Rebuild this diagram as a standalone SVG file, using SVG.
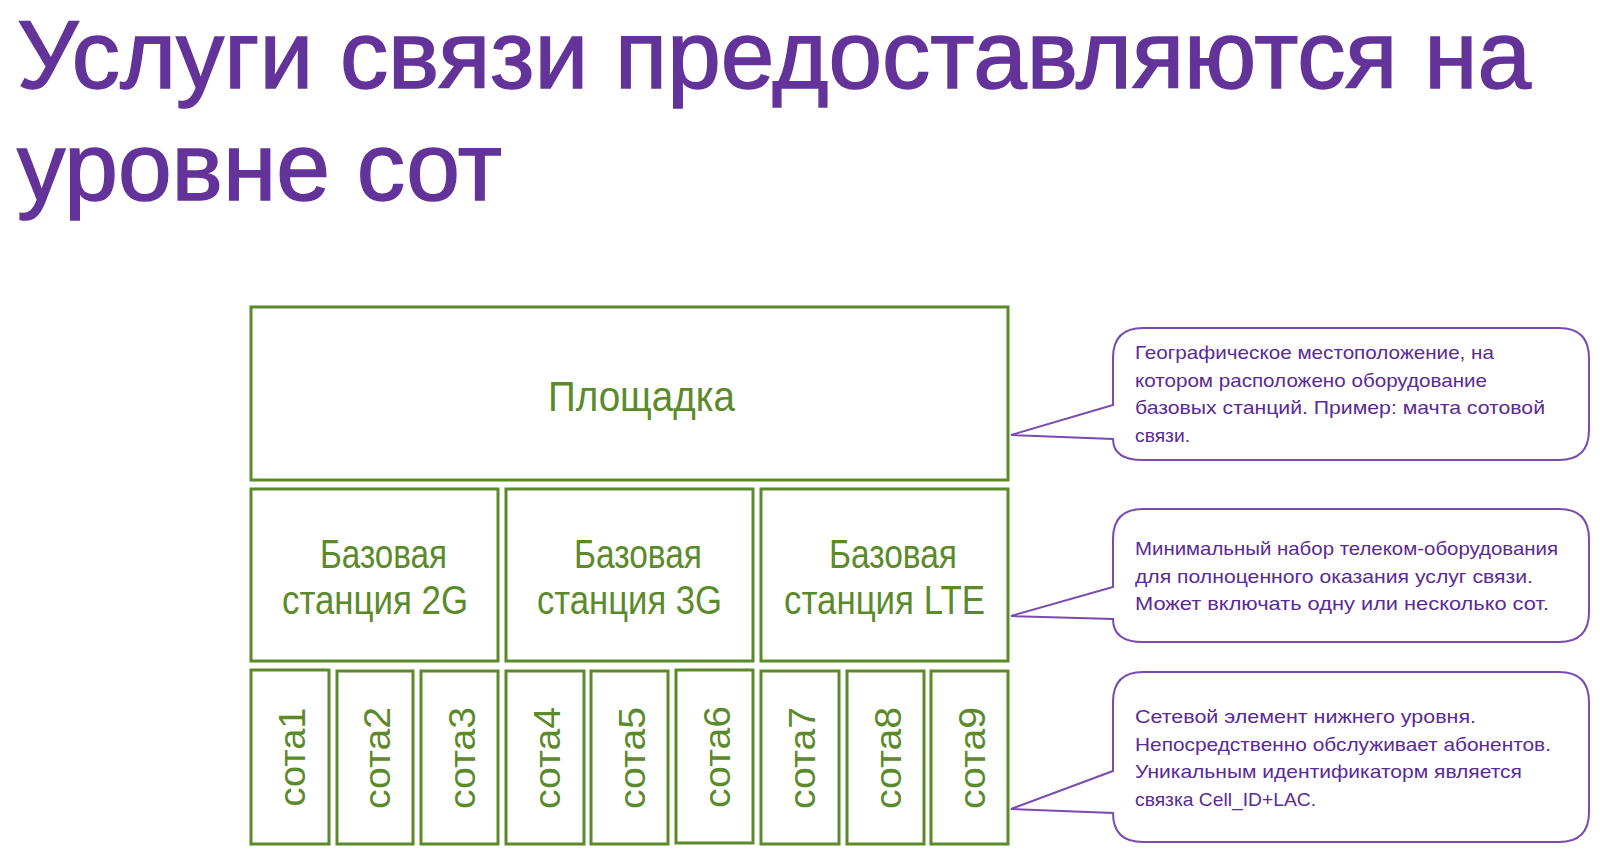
<svg xmlns="http://www.w3.org/2000/svg" width="1600" height="862" viewBox="0 0 1600 862">
<style>
.title{font-family:"Liberation Sans",Arial,sans-serif;font-size:96px;fill:#63339a;stroke:#63339a;stroke-width:1.5}
.box{fill:#ffffff;stroke:#5b8a2b;stroke-width:3}
.gt{font-family:"Liberation Sans",Arial,sans-serif;fill:#5b8a2b}
.cl{font-family:"Liberation Sans",Arial,sans-serif;fill:#5b8a2b;font-size:37px}
.call{fill:#ffffff;stroke:#7a4bb0;stroke-width:2}
.ct{font-family:"Liberation Sans",Arial,sans-serif;font-size:19px;fill:#5a2a96}
</style>
<rect width="1600" height="862" fill="#ffffff"/>
<g id="title">
<text class="title" x="17" y="88" textLength="1514" lengthAdjust="spacingAndGlyphs">Услуги связи предоставляются на</text>
<text class="title" x="17" y="200" textLength="485" lengthAdjust="spacingAndGlyphs">уровне сот</text>
</g>
<g id="site">
<rect class="box" x="251" y="307" width="757" height="173"/>
<text class="gt" x="548" y="411" font-size="42" textLength="187" lengthAdjust="spacingAndGlyphs">Площадка</text>
</g>
<g id="bs2g">
<rect class="box" x="251" y="489" width="247" height="172"/>
<text class="gt" x="320" y="568" font-size="40" textLength="127" lengthAdjust="spacingAndGlyphs">Базовая</text>
<text class="gt" x="282" y="614" font-size="40" textLength="186" lengthAdjust="spacingAndGlyphs">станция 2G</text>
</g>
<g id="bs3g">
<rect class="box" x="506" y="489" width="247" height="172"/>
<text class="gt" x="574" y="568" font-size="40" textLength="128" lengthAdjust="spacingAndGlyphs">Базовая</text>
<text class="gt" x="537" y="614" font-size="40" textLength="185" lengthAdjust="spacingAndGlyphs">станция 3G</text>
</g>
<g id="bslte">
<rect class="box" x="761" y="489" width="247" height="172"/>
<text class="gt" x="829" y="568" font-size="40" textLength="128" lengthAdjust="spacingAndGlyphs">Базовая</text>
<text class="gt" x="784" y="614" font-size="40" textLength="201" lengthAdjust="spacingAndGlyphs">станция LTE</text>
</g>
<g id="cell1"><rect class="box" x="251" y="670" width="78" height="174"/><text class="cl" text-anchor="middle" transform="translate(305,757) rotate(-90)" textLength="99" lengthAdjust="spacingAndGlyphs">сота1</text></g>
<g id="cell2"><rect class="box" x="337" y="671" width="76" height="173"/><text class="cl" text-anchor="middle" transform="translate(390,758) rotate(-90)" textLength="102" lengthAdjust="spacingAndGlyphs">сота2</text></g>
<g id="cell3"><rect class="box" x="421" y="671" width="77" height="173"/><text class="cl" text-anchor="middle" transform="translate(475,758) rotate(-90)" textLength="102" lengthAdjust="spacingAndGlyphs">сота3</text></g>
<g id="cell4"><rect class="box" x="506" y="671" width="78" height="173"/><text class="cl" text-anchor="middle" transform="translate(560,758) rotate(-90)" textLength="102" lengthAdjust="spacingAndGlyphs">сота4</text></g>
<g id="cell5"><rect class="box" x="591" y="671" width="77" height="173"/><text class="cl" text-anchor="middle" transform="translate(645,758) rotate(-90)" textLength="102" lengthAdjust="spacingAndGlyphs">сота5</text></g>
<g id="cell6"><rect class="box" x="676" y="670" width="77" height="173"/><text class="cl" text-anchor="middle" transform="translate(730,757) rotate(-90)" textLength="102" lengthAdjust="spacingAndGlyphs">сота6</text></g>
<g id="cell7"><rect class="box" x="761" y="671" width="78" height="173"/><text class="cl" text-anchor="middle" transform="translate(815,758) rotate(-90)" textLength="102" lengthAdjust="spacingAndGlyphs">сота7</text></g>
<g id="cell8"><rect class="box" x="847" y="671" width="77" height="173"/><text class="cl" text-anchor="middle" transform="translate(901,758) rotate(-90)" textLength="102" lengthAdjust="spacingAndGlyphs">сота8</text></g>
<g id="cell9"><rect class="box" x="931" y="671" width="77" height="173"/><text class="cl" text-anchor="middle" transform="translate(985,758) rotate(-90)" textLength="102" lengthAdjust="spacingAndGlyphs">сота9</text></g>
<g id="callout-site">
<path class="call" d="M1011,435 L1113,405 L1113,358 Q1113,328 1143,328 L1559,328 Q1589,328 1589,358 L1589,430 Q1589,460 1559,460 L1143,460 Q1113,460 1113,439 Z"/>
<text class="ct" x="1135" y="359" textLength="359" lengthAdjust="spacingAndGlyphs">Географическое местоположение, на</text>
<text class="ct" x="1135" y="387" textLength="352" lengthAdjust="spacingAndGlyphs">котором расположено оборудование</text>
<text class="ct" x="1135" y="414" textLength="410" lengthAdjust="spacingAndGlyphs">базовых станций. Пример: мачта сотовой</text>
<text class="ct" x="1135" y="442" textLength="55" lengthAdjust="spacingAndGlyphs">связи.</text>
</g>
<g id="callout-bs">
<path class="call" d="M1011,616 L1113,587 L1113,539 Q1113,509 1143,509 L1559,509 Q1589,509 1589,539 L1589,612 Q1589,642 1559,642 L1143,642 Q1113,642 1113,619 Z"/>
<text class="ct" x="1135" y="555" textLength="423" lengthAdjust="spacingAndGlyphs">Минимальный набор телеком-оборудования</text>
<text class="ct" x="1135" y="583" textLength="398" lengthAdjust="spacingAndGlyphs">для полноценного оказания услуг связи.</text>
<text class="ct" x="1135" y="610" textLength="414" lengthAdjust="spacingAndGlyphs">Может включать одну или несколько сот.</text>
</g>
<g id="callout-cell">
<path class="call" d="M1011,809 L1113,771 L1113,702 Q1113,672 1143,672 L1559,672 Q1589,672 1589,702 L1589,812 Q1589,842 1559,842 L1143,842 Q1113,842 1113,813 Z"/>
<text class="ct" x="1135" y="723" textLength="341" lengthAdjust="spacingAndGlyphs">Сетевой элемент нижнего уровня.</text>
<text class="ct" x="1135" y="751" textLength="416" lengthAdjust="spacingAndGlyphs">Непосредственно обслуживает абонентов.</text>
<text class="ct" x="1135" y="778" textLength="387" lengthAdjust="spacingAndGlyphs">Уникальным идентификаторм является</text>
<text class="ct" x="1135" y="806" textLength="181" lengthAdjust="spacingAndGlyphs">связка Cell_ID+LAC.</text>
</g>
</svg>
